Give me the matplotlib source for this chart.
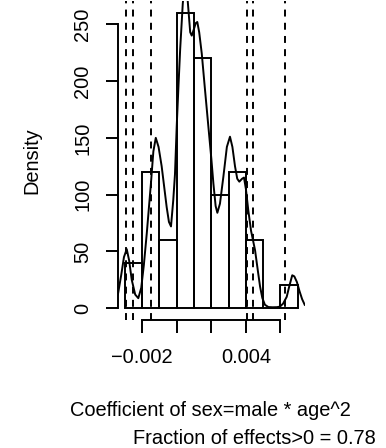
import numpy as np
import matplotlib
matplotlib.use("Agg")
import matplotlib.pyplot as plt

plt.rcParams['font.family'] = ['Liberation Sans', 'DejaVu Sans']
plt.rcParams['lines.scale_dashes'] = False

# Histogram (density) bins
bin_edges = [-0.003, -0.002, -0.001, 0.0, 0.001, 0.002, 0.003, 0.004, 0.005, 0.006, 0.007]
bin_density = [40, 120, 60, 260, 220, 100, 120, 60, 0, 20]

# Kernel density curve (x in 1e-3 units)
curve_x = [-3.40, -3.20, -3.05, -2.89, -2.75, -2.60, -2.40, -2.22, -2.05, -1.90,
           -1.73, -1.49, -1.35, -1.21, -1.05, -0.87, -0.58, -0.45, -0.33, -0.20,
           -0.10, 0.00, 0.10, 0.20, 0.35, 0.51, 0.65, 0.78, 0.87, 1.00,
           1.10, 1.19, 1.30, 1.45, 1.62, 1.80, 2.00, 2.12, 2.25, 2.35,
           2.50, 2.70, 2.90, 3.08, 3.22, 3.37, 3.50, 3.62, 3.78, 3.89,
           4.00, 4.14, 4.30, 4.53, 4.70, 4.82, 4.95, 5.10, 5.30, 5.55,
           5.80, 5.97, 6.15, 6.36, 6.52, 6.68, 6.80, 6.95, 7.10, 7.25, 7.40]
curve_y = [12, 30, 45, 52, 42, 25, 12, 8.8, 18, 38,
           66, 110, 138, 150, 142, 125, 89, 76, 72, 95,
           118, 160, 195, 228, 268, 295, 268, 243, 240, 246,
           251, 252, 243, 224, 195, 165, 132, 110, 90, 84,
           92, 116, 142, 151, 142, 125, 114, 111.4, 114, 115,
           105, 86, 68, 51, 32, 19, 9, 3, 1, 0.8,
           0.9, 1.4, 4, 10, 20, 29, 28, 23, 15, 8, 3]

# Dashed vertical reference lines
vlines_x = [-0.00293, -0.00251, -0.00150, 0.00405, 0.00443, 0.00628]

xticks = [-0.002, 0.0, 0.002, 0.004, 0.006]
xtick_labels = ['\u22120.002', '', '', '0.004', '']
yticks = [0, 50, 100, 150, 200, 250]
ytick_labels = ['0', '50', '100', '150', '200', '250']

xlabel_line1 = "Coefficient of sex=male * age^2"
xlabel_line2 = "Fraction of effects>0 = 0.78"
ylabel = "Density"

W, H = 386, 448
fig = plt.figure(figsize=(W / 100, H / 100), dpi=100)
left, right, bottom_px, top_px = 117.9, 304.7, 320.0, 1.1
ax = fig.add_axes([left / W, 1 - bottom_px / H, (right - left) / W, (bottom_px - top_px) / H])

lw = 1.4
widths = np.diff(bin_edges)
ax.bar(bin_edges[:-1], bin_density, width=widths, align='edge', fill=False,
       edgecolor='black', linewidth=lw)
ax.plot(np.array(curve_x) * 1e-3, curve_y, color='black', linewidth=lw)
for v in vlines_x:
    ax.axvline(v, color='black', linewidth=lw, linestyle=(0, (5.0, 4.5)))

ax.set_xlim(-0.0034, 0.0074)
ax.set_ylim(-10.4, 270.4)

for s in ['top', 'right']:
    ax.spines[s].set_visible(False)
ax.spines['left'].set_bounds(0, 250)
ax.spines['bottom'].set_bounds(-0.002, 0.006)
ax.spines['left'].set_linewidth(lw)
ax.spines['bottom'].set_linewidth(lw)

ax.set_xticks(xticks)
ax.set_xticklabels(xtick_labels, fontsize=14.4)
ax.set_yticks(yticks)
ax.set_yticklabels(ytick_labels, fontsize=14.4, rotation=90, va='center')
ax.tick_params(axis='x', length=9.5, width=lw, pad=11)
ax.tick_params(axis='y', length=9, width=lw, pad=9.5)

fig.text(31.5 / W, 1 - 160.5 / H, ylabel, rotation=90, ha='center', va='center', fontsize=14.4)
fig.text(210.5 / W, 1 - 416.0 / H, xlabel_line1, ha='center', va='baseline', fontsize=14.4)
fig.text(376 / W, 1 - 444.0 / H, xlabel_line2, ha='right', va='baseline', fontsize=14.4)

fig.savefig('out.png', dpi=100)
